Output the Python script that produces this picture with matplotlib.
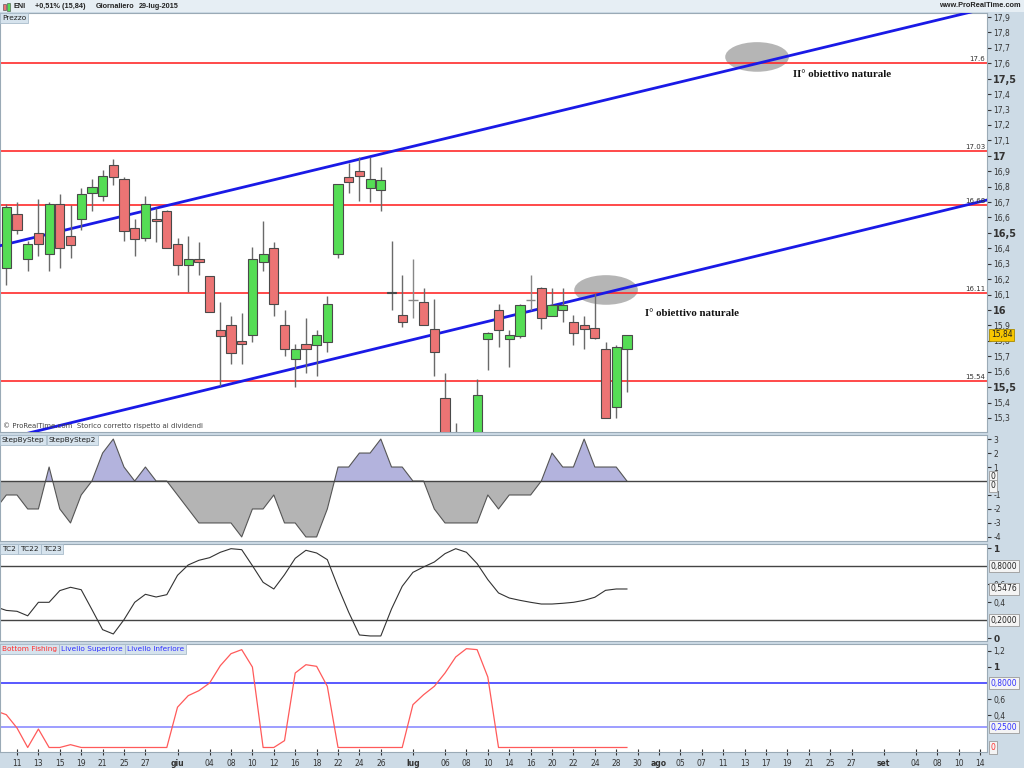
import numpy as np
import matplotlib.pyplot as plt
from matplotlib.patches import Rectangle, Ellipse

W, H = 1024, 768

# ENI daily candles, index 0 = 11-mag-2015 (trading days)
day = np.arange(-1, 58)
opens = [16.27, 16.62, 16.33, 16.50, 16.36, 16.69, 16.48, 16.59, 16.76, 16.74,
         16.94, 16.85, 16.53, 16.47, 16.59, 16.64, 16.43, 16.29, 16.33, 16.22,
         15.87, 15.90, 15.80, 15.84, 16.31, 16.40, 15.90, 15.68, 15.78, 15.77,
         15.79, 16.36, 16.86, 16.90, 16.79, 16.78, 16.12, 15.97, 16.065, 16.05,
         15.88, 15.43, 15.05, 15.10, 15.05, 15.81, 16.00, 15.81, 15.83, 16.065,
         16.14, 15.96, 16.00, 15.92, 15.90, 15.885, 15.75, 15.37, 15.75]
highs = [16.69, 16.70, 16.45, 16.72, 16.70, 16.75, 16.68, 16.79, 16.85, 16.91,
         16.98, 16.86, 16.59, 16.74, 16.66, 16.65, 16.47, 16.48, 16.44, 16.22,
         16.05, 15.96, 15.98, 16.41, 16.58, 16.44, 16.00, 15.78, 15.95, 15.87,
         16.09, 16.82, 16.955, 16.99, 16.99, 16.93, 16.45, 16.23, 16.33, 16.14,
         16.07, 15.59, 15.27, 15.19, 15.55, 15.86, 16.04, 15.87, 16.04, 16.23,
         16.15, 16.14, 16.14, 15.97, 15.96, 16.11, 15.79, 15.77, 15.84]
lows = [16.16, 16.49, 16.25, 16.35, 16.25, 16.27, 16.34, 16.52, 16.64, 16.71,
        16.81, 16.45, 16.35, 16.45, 16.44, 16.40, 16.23, 16.12, 16.23, 15.99,
        15.51, 15.65, 15.65, 15.79, 16.25, 15.96, 15.70, 15.50, 15.59, 15.57,
        15.73, 16.34, 16.76, 16.71, 16.70, 16.64, 16.00, 15.89, 15.95, 15.90,
        15.57, 14.95, 14.92, 14.98, 15.00, 15.61, 15.76, 15.63, 15.82, 16.00,
        15.88, 15.96, 15.92, 15.77, 15.75, 15.81, 15.30, 15.30, 15.47]
closes = [16.67, 16.52, 16.43, 16.43, 16.69, 16.40, 16.42, 16.75, 16.80, 16.87,
          16.86, 16.51, 16.46, 16.69, 16.58, 16.40, 16.29, 16.33, 16.31, 15.99,
          15.83, 15.72, 15.78, 16.33, 16.36, 16.04, 15.745, 15.75, 15.745, 15.84,
          16.04, 16.82, 16.83, 16.87, 16.85, 16.84, 16.11, 15.92, 16.065, 15.90,
          15.73, 15.05, 15.15, 15.02, 15.45, 15.85, 15.87, 15.84, 16.03, 16.065,
          15.95, 16.03, 16.03, 15.85, 15.875, 15.82, 15.30, 15.76, 15.84]

levels = [17.6, 17.03, 16.68, 16.11, 15.54]
level_tags = ['17.6', '17.03', '16.68', '16.11', '15.54']
# trendlines: (day, price) end points
upper_trend = ([-2, 92], [16.41, 17.98])
lower_trend = ([0, 92], [15.184, 16.736])
targets = ['II° obiettivo naturale', 'I° obiettivo naturale']
target_pos = [(72.5, 17.524), (58.7, 15.98)]
ellipses = [(69.16, 17.641), (55.05, 16.13)]

# indicators, from day -2 to day 57
ind_day = np.arange(-2, 58)
step = [-2, -1, -1, -2, -2, 1, -2, -3, -1, 0, 2, 3, 1, 0, 1, 0, 0, -1, -2, -3,
        -3, -3, -3, -4, -2, -2, -1, -3, -3, -4, -4, -2, 1, 1, 2, 2, 3, 1, 1, 0,
        0, -2, -3, -3, -3, -3, -1, -2, -1, -1, -1, 0, 2, 1, 1, 3, 1, 1, 1, 0]
tc2 = [0.35, 0.31, 0.30, 0.25, 0.40, 0.40, 0.53, 0.567, 0.54, 0.32,
       0.096, 0.048, 0.207, 0.40, 0.489, 0.459, 0.485, 0.70, 0.815, 0.867,
       0.896, 0.956, 0.996, 0.985, 0.807, 0.622, 0.548, 0.707, 0.889, 0.978,
       0.948, 0.874, 0.57, 0.289, 0.037, 0.026, 0.026, 0.326, 0.578, 0.733,
       0.793, 0.848, 0.941, 0.996, 0.956, 0.83, 0.652, 0.504, 0.448, 0.422,
       0.40, 0.381, 0.381, 0.389, 0.40, 0.422, 0.456, 0.533, 0.548, 0.548]
bottom_fishing = [0.455, 0.407, 0.242, 0, 0.229, 0, 0, 0.035, 0, 0,
                  0, 0, 0, 0, 0, 0, 0, 0.50, 0.643, 0.705,
                  0.80, 1.015, 1.164, 1.214, 0.998, 0, 0, 0.085, 0.924, 1.027,
                  1.007, 0.759, 0, 0, 0, 0, 0, 0, 0, 0.531,
                  0.655, 0.759, 0.924, 1.123, 1.226, 1.214, 0.874, 0, 0, 0,
                  0, 0, 0, 0, 0, 0, 0, 0, 0, 0]

xt_idx = [0, 2, 4, 6, 8, 10, 12, 15, 18, 20, 22, 24, 26, 28, 30, 32, 34, 37, 40, 42, 44,
          46, 48, 50, 52, 54, 56, 58, 60, 62, 64, 66, 68, 70, 72, 74, 76, 78, 81, 84, 86, 88, 90]
xt_lbl = ['11', '13', '15', '19', '21', '25', '27', 'giu', '04', '08', '10', '12', '16', '18',
          '22', '24', '26', 'lug', '06', '08', '10', '14', '16', '20', '22', '24', '28', '30',
          'ago', '05', '07', '11', '13', '17', '19', '21', '25', '27', 'set', '04', '08', '10', '14']
months = ['giu', 'lug', 'ago', 'set']
header = ['ENI', '+0,51% (15,84)', 'Giornaliero', '29-lug-2015']
header_x = [14, 35, 96, 139]

FRAME = '#cddbe6'
TAB = '#d6e3ed'
XLIM = (-1.589, 90.65)

fig = plt.figure(figsize=(W / 100, H / 100), dpi=100, facecolor=FRAME)
fig.patches.append(Rectangle((0, 1 - 12 / H), 1, 12 / H, transform=fig.transFigure,
                             fc='#e6eef4', ec='none', zorder=0))


def px_axes(x0, y0, x1, y1):
    return fig.add_axes([x0 / W, 1 - y1 / H, (x1 - x0) / W, (y1 - y0) / H])


def style(ax, ylim):
    ax.set_xlim(*XLIM)
    ax.set_ylim(*ylim)
    ax.set_facecolor('white')
    for s in ax.spines.values():
        s.set_color('#9aaab6')
        s.set_linewidth(0.8)
    ax.yaxis.tick_right()
    ax.tick_params(axis='y', direction='out', length=3, pad=1.5, labelsize=5.5,
                   colors='#333333')
    ax.tick_params(axis='x', bottom=False, labelbottom=False)


def tags(ax, y, text, tc='#222222', fc='#f4f4f4', ec='#9a9a9a'):
    ax.text(1.004, y, text, transform=ax.get_yaxis_transform(), ha='left', va='center',
            fontsize=5.5, color=tc, clip_on=False, zorder=10,
            bbox=dict(boxstyle='square,pad=0.2', fc=fc, ec=ec, lw=0.6))


def tabs(ax, names, colors):
    r = fig.canvas.get_renderer()
    bb = ax.get_position()
    x = bb.x0 * W + 2
    ytop = (1 - bb.y1) * H + 2
    for name, c in zip(names, colors):
        t = fig.text(x / W, 1 - ytop / H, name, fontsize=5.3, color=c, ha='left', va='top',
                     zorder=10, bbox=dict(boxstyle='square,pad=0.25', fc=TAB, ec='#a9bccb', lw=0.6))
        x += t.get_window_extent(r).width + 2 * 0.25 * 5.3 * 100 / 72 + 0.6


# ---------------- price panel ----------------
ax1 = px_axes(0, 13, 987, 432)
style(ax1, (15.209, 17.926))
yt = np.round(np.arange(15.3, 17.95, 0.1), 1)
ax1.set_yticks(yt)
ax1.set_yticklabels([('%g' % v).replace('.', ',') for v in yt])
for v, lbl in zip(yt, ax1.get_yticklabels()):
    if abs(v * 2 - round(v * 2)) < 1e-6:
        lbl.set_fontweight('bold')
        lbl.set_fontsize(7)

for e in ellipses:
    ax1.add_patch(Ellipse(e, 5.95, 0.192, fc='#b5b5b5', ec='none', zorder=1))

for lv, tg in zip(levels, level_tags):
    ax1.axhline(lv, color='#ff2a2a', lw=1.2, zorder=2)
    ax1.text(0.998, lv + 0.008, tg, transform=ax1.get_yaxis_transform(), ha='right',
             va='bottom', fontsize=5, color='#333333', zorder=6)

ax1.plot(*upper_trend, color='#1a1ae6', lw=2, zorder=3)
ax1.plot(*lower_trend, color='#1a1ae6', lw=2, zorder=3)

bw = 0.86
for d, o, h, l, c in zip(day, opens, highs, lows, closes):
    if abs(c - o) < 0.005:
        ax1.vlines(d, l, h, color='#888888', lw=1, zorder=4)
        ax1.hlines(o, d - bw / 2, d + bw / 2, color='#888888', lw=1, zorder=4)
        continue
    fc = '#55dd55' if c > o else '#ec7474'
    ax1.vlines(d, l, h, color='#6a6a6a', lw=1, zorder=4)
    ax1.add_patch(Rectangle((d - bw / 2, min(o, c)), bw, abs(c - o), fc=fc,
                            ec='#4a4a4a', lw=0.8, zorder=5))

for txt, (tx, ty) in zip(targets, target_pos):
    ax1.text(tx, ty, txt, fontfamily='Liberation Serif', fontweight='bold',
             fontsize=7.8, va='center', ha='left', color='#111111', zorder=6)

tags(ax1, closes[-1], '15,84', tc='#222222', fc='#f7c600', ec='#a88a00')
ax1.text(0.003, 0.006, '© ProRealTime.com  Storico corretto rispetto ai dividendi',
         transform=ax1.transAxes, fontsize=5, color='#444444', ha='left', va='bottom', zorder=6)

# ---------------- StepByStep ----------------
ax2 = px_axes(0, 435, 987, 541)
style(ax2, (-4.29, 3.29))
ax2.set_yticks([3, 2, 1, -1, -2, -3, -4])
ax2.set_yticklabels(['3', '2', '1', '-1', '-2', '-3', '-4'])
sv = np.array(step, dtype=float)
ax2.fill_between(ind_day, sv, 0, where=sv >= 0, interpolate=True, color='#b3b3dd', lw=0)
ax2.fill_between(ind_day, sv, 0, where=sv <= 0, interpolate=True, color='#b4b4b4', lw=0)
ax2.plot(ind_day, sv, color='#555555', lw=0.8)
ax2.axhline(0, color='#444444', lw=1)
tags(ax2, 0.3, '0')
tags(ax2, -0.35, '0')

# ---------------- TC2 ----------------
ax3 = px_axes(0, 544, 987, 641)
style(ax3, (-0.03, 1.048))
ax3.set_yticks([1, 0.6, 0.4, 0])
ax3.set_yticklabels(['1', '0,6', '0,4', '0'])
for lbl in (ax3.get_yticklabels()[0], ax3.get_yticklabels()[3]):
    lbl.set_fontweight('bold')
    lbl.set_fontsize(6.5)
ax3.axhline(0.8, color='#444444', lw=1)
ax3.axhline(0.2, color='#444444', lw=1)
ax3.plot(ind_day, tc2, color='#333333', lw=0.8)
tags(ax3, 0.8, '0,8000')
tags(ax3, tc2[-1], '0,5476')
tags(ax3, 0.2, '0,2000')

# ---------------- Bottom Fishing ----------------
ax4 = px_axes(0, 644, 987, 752)
style(ax4, (-0.056, 1.284))
ax4.set_yticks([1.2, 1, 0.6, 0.4])
ax4.set_yticklabels(['1,2', '1', '0,6', '0,4'])
ax4.get_yticklabels()[1].set_fontweight('bold')
ax4.get_yticklabels()[1].set_fontsize(6.5)
ax4.axhline(0.8, color='#3c3cff', lw=1.2)
ax4.axhline(0.25, color='#8c8cff', lw=1.2)
ax4.plot(ind_day, bottom_fishing, color='#ff5a5a', lw=0.9)
tags(ax4, 0.8, '0,8000', tc='#3030ff')
tags(ax4, 0.25, '0,2500', tc='#3030ff')
tags(ax4, 0, '0', tc='#ff3030')
ax4.set_xticks(xt_idx)
ax4.set_xticklabels(xt_lbl)
ax4.tick_params(axis='x', bottom=True, labelbottom=True, direction='inout', length=5,
                pad=2.5, labelsize=5.5, colors='#333333')
for lbl in ax4.get_xticklabels():
    if lbl.get_text() in months:
        lbl.set_fontweight('bold')

tabs(ax1, ['Prezzo'], ['#222222'])
tabs(ax2, ['StepByStep', 'StepByStep2'], ['#222222', '#222222'])
tabs(ax3, ['TC2', 'TC22', 'TC23'], ['#222222', '#222222', '#222222'])
tabs(ax4, ['Bottom Fishing', 'Livello Superiore', 'Livello Inferiore'],
     ['#ff3030', '#3030ff', '#3030ff'])

# ---------------- header ----------------
fig.patches.append(Rectangle((3 / W, 1 - 10 / H), 3 / W, 6 / H, transform=fig.transFigure,
                             fc='#ec7474', ec='#444444', lw=0.4, zorder=5))
fig.patches.append(Rectangle((7 / W, 1 - 11 / H), 3 / W, 8 / H, transform=fig.transFigure,
                             fc='#55dd55', ec='#444444', lw=0.4, zorder=5))
for x, s in zip(header_x, header):
    fig.text(x / W, 1 - 6.5 / H, s, fontsize=5.2, fontweight='bold', color='#222222',
             fontfamily='Liberation Sans', ha='left', va='center')
fig.text(1021 / W, 1 - 5.5 / H, 'www.ProRealTime.com', fontsize=5.3, fontweight='bold',
         fontfamily='Liberation Sans', color='#222222', ha='right', va='center')

fig.savefig('out.png', dpi=100, facecolor=FRAME)
